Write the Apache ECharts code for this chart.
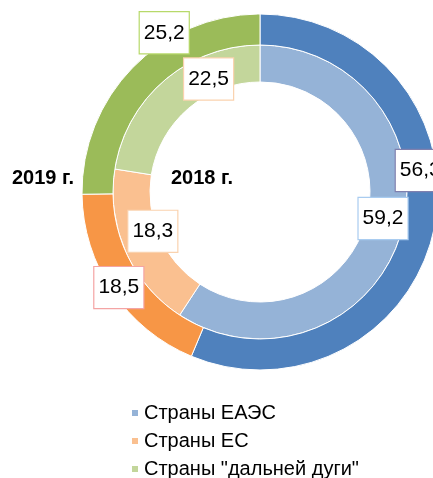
<!DOCTYPE html>
<html><head><meta charset="utf-8">
<script src="https://cdn.jsdelivr.net/npm/echarts@6/dist/echarts.min.js"></script>
<style>html,body{margin:0;padding:0;background:#fff}#c{width:433px;height:478px}</style>
</head><body><div id="c"></div>
<script>
var categories = ['Страны ЕАЭС', 'Страны ЕС', 'Страны "дальней дуги"'];
var values2019 = [56.3, 18.5, 25.2];
var values2018 = [59.2, 18.3, 22.5];
var yearLabels = ['2019 г.', '2018 г.'];

var outerColors = ['#4F81BD', '#F79646', '#9BBB59'];
var innerColors = ['#95B3D7', '#FAC090', '#C3D69B'];
var outerBorders = ['#7F80AE', '#F4A4A4', '#B7D96A'];
var innerBorders = ['#A9CCF0', '#FAD2AE', '#FAD2AE'];
var outerOffsets = [[-2, -54], [-4, 3], [22, -43]];
var innerOffsets = [[-3, -11], [13, -14], [34, -13]];

function fmt(v){ return String(v).replace('.', ','); }
function build(vals, colors, borders, offsets){
  return categories.map(function(n, i){
    return {
      name: n, value: vals[i],
      itemStyle: {color: colors[i]},
      label: {borderColor: borders[i], offset: offsets[i]}
    };
  });
}
var labelBase = {
  show: true, position: 'inside',
  formatter: function(p){ return fmt(p.value); },
  fontFamily: 'Liberation Sans, Arial, sans-serif',
  fontSize: 21, lineHeight: 22, color: '#000',
  backgroundColor: '#fff', borderWidth: 1.2,
  padding: [10, 4, 9, 4]
};
var chart = echarts.init(document.getElementById('c'), null, {renderer: 'canvas'});
chart.setOption({
  animation: false,
  legend: {
    orient: 'vertical', left: 130, bottom: -1, padding: 0,
    itemWidth: 8, itemHeight: 8, itemGap: 8, icon: 'rect',
    textStyle: {fontFamily: 'Liberation Sans, Arial, sans-serif', fontSize: 20, lineHeight: 20, color: '#000'},
    data: categories
  },
  graphic: [
    {type: 'text', left: 12, top: 168, style: {text: yearLabels[0], font: 'bold 20px "Liberation Sans", Arial, sans-serif', fill: '#000'}},
    {type: 'text', left: 171, top: 168, style: {text: yearLabels[1], font: 'bold 20px "Liberation Sans", Arial, sans-serif', fill: '#000'}}
  ],
  series: [
    {
      type: 'pie', name: '2018', center: [260, 192], radius: [110, 147],
      startAngle: 90, clockwise: true, silent: true,
      itemStyle: {borderColor: '#fff', borderWidth: 1},
      label: labelBase, labelLine: {show: false},
      data: build(values2018, innerColors, innerBorders, innerOffsets)
    },
    {
      type: 'pie', name: '2019', center: [260, 192], radius: [147, 178],
      startAngle: 90, clockwise: true, silent: true,
      itemStyle: {borderColor: '#fff', borderWidth: 1},
      label: labelBase, labelLine: {show: false},
      data: build(values2019, outerColors, outerBorders, outerOffsets)
    }
  ]
});
</script></body></html>
